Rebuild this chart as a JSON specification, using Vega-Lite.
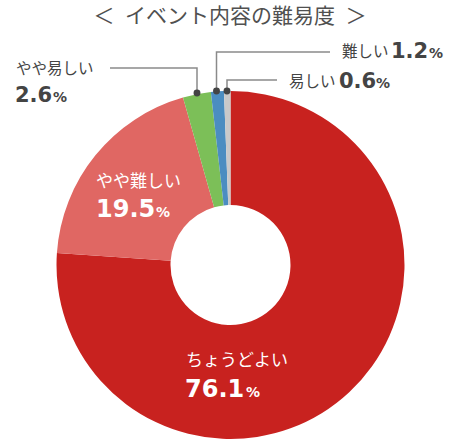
{
  "$schema": "https://vega.github.io/schema/vega-lite/v6.json",
  "width": 460,
  "height": 440,
  "padding": 0,
  "autosize": "none",
  "background": "white",
  "config": {"view": {"stroke": null}},
  "datasets": {
    "slices": [
      {"category": "ちょうどよい", "value": 76.1, "order": 1},
      {"category": "やや難しい", "value": 19.5, "order": 2},
      {"category": "やや易しい", "value": 2.6, "order": 3},
      {"category": "難しい", "value": 1.2, "order": 4},
      {"category": "易しい", "value": 0.6, "order": 5}
    ],
    "leaders": [
      {"id": "やや易しい", "seq": 1, "x": 197, "y": 93},
      {"id": "やや易しい", "seq": 2, "x": 197, "y": 68},
      {"id": "やや易しい", "seq": 3, "x": 110, "y": 68},
      {"id": "難しい", "seq": 1, "x": 216.5, "y": 91},
      {"id": "難しい", "seq": 2, "x": 216.5, "y": 52},
      {"id": "難しい", "seq": 3, "x": 330, "y": 52},
      {"id": "易しい", "seq": 1, "x": 227, "y": 91},
      {"id": "易しい", "seq": 2, "x": 227, "y": 80},
      {"id": "易しい", "seq": 3, "x": 277, "y": 80}
    ],
    "labels": [
      {"kind": "title", "text": "＜\u2002イベント内容の難易度\u2002＞", "x": 230, "y": 23},
      {"kind": "inLabel", "text": "やや難しい", "x": 96, "y": 187},
      {"kind": "inNum", "text": "19.5", "x": 96, "y": 217},
      {"kind": "inPct", "text": "%", "x": 156, "y": 217},
      {"kind": "inLabel", "text": "ちょうどよい", "x": 186, "y": 366},
      {"kind": "inNum", "text": "76.1", "x": 185, "y": 397},
      {"kind": "inPct", "text": "%", "x": 246, "y": 397},
      {"kind": "outLabel", "text": "やや易しい", "x": 16, "y": 74},
      {"kind": "outNum", "text": "2.6", "x": 15, "y": 102},
      {"kind": "outPct", "text": "%", "x": 53, "y": 102},
      {"kind": "outLabel", "text": "難しい", "x": 342, "y": 57},
      {"kind": "outNum", "text": "1.2", "x": 391, "y": 58},
      {"kind": "outPct", "text": "%", "x": 429, "y": 58},
      {"kind": "outLabel", "text": "易しい", "x": 289, "y": 87},
      {"kind": "outNum", "text": "0.6", "x": 339, "y": 88},
      {"kind": "outPct", "text": "%", "x": 376, "y": 88}
    ]
  },
  "encoding": {
    "x": {"type": "quantitative", "scale": {"domain": [0, 460], "nice": false, "zero": false}, "axis": null},
    "y": {"type": "quantitative", "scale": {"domain": [0, 440], "nice": false, "zero": false, "reverse": true}, "axis": null}
  },
  "layer": [
    {
      "data": {"name": "slices"},
      "mark": {"type": "arc", "outerRadius": 174, "innerRadius": 60},
      "encoding": {
        "x": {"datum": 230.5},
        "y": {"datum": 265},
        "theta": {"field": "value", "type": "quantitative", "stack": true},
        "order": {"field": "order", "type": "quantitative"},
        "color": {
          "field": "category",
          "type": "nominal",
          "scale": {
            "domain": ["ちょうどよい", "やや難しい", "やや易しい", "難しい", "易しい"],
            "range": ["#c8221f", "#e06763", "#7cbf58", "#4b8dc1", "#c9c9c9"]
          },
          "legend": null
        }
      }
    },
    {
      "data": {"name": "leaders"},
      "mark": {"type": "line", "color": "#8a8a8a", "strokeWidth": 1.5},
      "encoding": {
        "x": {"field": "x", "type": "quantitative"},
        "y": {"field": "y", "type": "quantitative"},
        "detail": {"field": "id"},
        "order": {"field": "seq", "type": "quantitative"}
      }
    },
    {
      "data": {"name": "leaders"},
      "transform": [{"filter": "datum.seq === 1"}],
      "mark": {"type": "point", "filled": true, "opacity": 1, "color": "#444444", "size": 48},
      "encoding": {
        "x": {"field": "x", "type": "quantitative"},
        "y": {"field": "y", "type": "quantitative"}
      }
    },
    {
      "data": {"name": "labels"},
      "transform": [{"filter": "datum.kind === 'title'"}],
      "mark": {"type": "text", "align": "center", "baseline": "alphabetic", "font": "Noto Sans CJK JP", "fontSize": 21, "color": "#505050"},
      "encoding": {"x": {"field": "x", "type": "quantitative"}, "y": {"field": "y", "type": "quantitative"}, "text": {"field": "text"}}
    },
    {
      "data": {"name": "labels"},
      "transform": [{"filter": "datum.kind === 'inLabel'"}],
      "mark": {"type": "text", "align": "left", "baseline": "alphabetic", "font": "Noto Sans CJK JP", "fontSize": 17, "color": "white"},
      "encoding": {"x": {"field": "x", "type": "quantitative"}, "y": {"field": "y", "type": "quantitative"}, "text": {"field": "text"}}
    },
    {
      "data": {"name": "labels"},
      "transform": [{"filter": "datum.kind === 'inNum'"}],
      "mark": {"type": "text", "align": "left", "baseline": "alphabetic", "font": "DejaVu Sans", "fontWeight": "bold", "fontSize": 24, "color": "white"},
      "encoding": {"x": {"field": "x", "type": "quantitative"}, "y": {"field": "y", "type": "quantitative"}, "text": {"field": "text"}}
    },
    {
      "data": {"name": "labels"},
      "transform": [{"filter": "datum.kind === 'inPct'"}],
      "mark": {"type": "text", "align": "left", "baseline": "alphabetic", "font": "DejaVu Sans", "fontWeight": "bold", "fontSize": 14, "color": "white"},
      "encoding": {"x": {"field": "x", "type": "quantitative"}, "y": {"field": "y", "type": "quantitative"}, "text": {"field": "text"}}
    },
    {
      "data": {"name": "labels"},
      "transform": [{"filter": "datum.kind === 'outLabel'"}],
      "mark": {"type": "text", "align": "left", "baseline": "alphabetic", "font": "Noto Sans CJK JP", "fontSize": 15.5, "color": "#444444"},
      "encoding": {"x": {"field": "x", "type": "quantitative"}, "y": {"field": "y", "type": "quantitative"}, "text": {"field": "text"}}
    },
    {
      "data": {"name": "labels"},
      "transform": [{"filter": "datum.kind === 'outNum'"}],
      "mark": {"type": "text", "align": "left", "baseline": "alphabetic", "font": "DejaVu Sans", "fontWeight": "bold", "fontSize": 21, "color": "#444444"},
      "encoding": {"x": {"field": "x", "type": "quantitative"}, "y": {"field": "y", "type": "quantitative"}, "text": {"field": "text"}}
    },
    {
      "data": {"name": "labels"},
      "transform": [{"filter": "datum.kind === 'outPct'"}],
      "mark": {"type": "text", "align": "left", "baseline": "alphabetic", "font": "DejaVu Sans", "fontWeight": "bold", "fontSize": 14, "color": "#444444"},
      "encoding": {"x": {"field": "x", "type": "quantitative"}, "y": {"field": "y", "type": "quantitative"}, "text": {"field": "text"}}
    }
  ]
}
